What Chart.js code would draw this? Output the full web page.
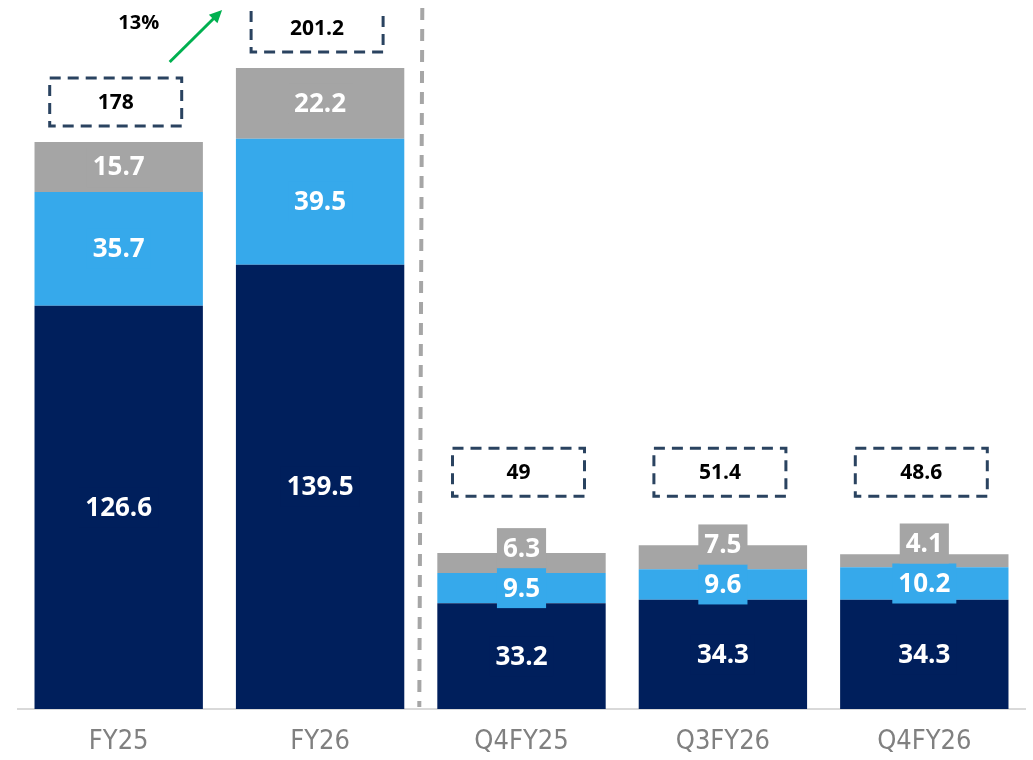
<!DOCTYPE html>
<html>
<head>
<meta charset="utf-8">
<script src="https://cdn.jsdelivr.net/npm/chart.js@4.4.1/dist/chart.umd.min.js"></script>
<style>
  html, body { margin: 0; padding: 0; background: #fff; }
  #wrap { width: 1033px; height: 760px; position: relative; }
</style>
</head>
<body>
<div id="wrap"><canvas id="revenue" width="1033" height="760"></canvas></div>
<script>
(function () {
    'use strict';

    /* ── Datos ─────────────────────────────────────────── */
    var categories = ['FY25', 'FY26', 'Q4FY25', 'Q3FY26', 'Q4FY26'];
    var baseValues = [126.6, 139.5, 33.2, 34.3, 34.3];
    var midValues  = [35.7, 39.5, 9.5, 9.6, 10.2];
    var topValues  = [15.7, 22.2, 6.3, 7.5, 4.1];
    var totals     = [178, 201.2, 49, 51.4, 48.6];
    var growth     = '13%';

    /* ── Colores ───────────────────────────────────────── */
    var NAVY  = '#001f5c';
    var BLUE  = '#36a9eb';
    var GREY  = '#a5a5a5';
    var DASH  = '#2a4360';
    var GREEN = '#00b050';
    var AXIS  = '#d9d9d9';

    var LABEL_FONT = 'bold 26px "Open Sans", sans-serif';
    var TOTAL_FONT = 'bold 21px "Open Sans", sans-serif';

    /* Etiquetas de segmento con fondo del mismo color; se apilan sin solaparse */
    var segmentLabels = {
        id: 'segmentLabels',
        afterDatasetsDraw: function (chart) {
            var ctx = chart.ctx;
            ctx.save();
            ctx.font = LABEL_FONT;
            ctx.textAlign = 'center';
            ctx.textBaseline = 'middle';
            var n = chart.data.labels.length;
            for (var i = 0; i < n; i++) {
                var prevTop = Infinity;
                chart.data.datasets.forEach(function (ds, d) {
                    var bar = chart.getDatasetMeta(d).data[i];
                    var text = String(ds.data[i]);
                    var w = ctx.measureText(text).width + 12;
                    var h = 40;
                    var cy = (bar.y + bar.base) / 2;
                    var bottom = cy + h / 2;
                    if (bottom > prevTop) bottom = prevTop;
                    var top = bottom - h;
                    ctx.fillStyle = ds.backgroundColor;
                    ctx.fillRect(bar.x - w / 2, top, w, h);
                    ctx.fillStyle = '#ffffff';
                    ctx.fillText(text, bar.x, top + h / 2 + 1);
                    prevTop = top;
                });
            }
            ctx.restore();
        }
    };

    /* Cajas punteadas con totales, separador y flecha de crecimiento */
    var annotations = {
        id: 'annotations',
        afterDatasetsDraw: function (chart) {
            var ctx = chart.ctx;
            var xs = chart.scales.x;
            var ys = chart.scales.y;
            var area = chart.chartArea;
            var boxW = 132, boxH = 48;

            var quarterMax = Math.max.apply(null, totals.slice(2));
            var boxes = totals.map(function (t, i) {
                var bottom = i < 2 ? ys.getPixelForValue(t) - 16
                                   : ys.getPixelForValue(quarterMax) - 49;
                return { x: xs.getPixelForValue(i) - 3, top: bottom - boxH, bottom: bottom };
            });

            // las cajas quedan recortadas por el borde superior del área
            ctx.save();
            ctx.beginPath();
            ctx.rect(area.left - 20, area.top + 3, area.right - area.left + 40, area.bottom - area.top);
            ctx.clip();

            ctx.lineWidth = 3;
            ctx.strokeStyle = DASH;
            ctx.setLineDash([11, 7]);
            boxes.forEach(function (b, i) {
                ctx.strokeRect(b.x - boxW / 2, b.top, boxW, boxH);
                ctx.fillStyle = '#000';
                ctx.font = TOTAL_FONT;
                ctx.textAlign = 'center';
                ctx.textBaseline = 'middle';
                ctx.fillText(String(totals[i]), b.x, b.top + boxH / 2 + 1);
            });
            ctx.restore();

            // separador anual / trimestral
            ctx.save();
            var sx = (xs.getPixelForValue(1) + xs.getPixelForValue(2)) / 2;
            ctx.strokeStyle = '#a6a6a6';
            ctx.lineWidth = 4;
            ctx.setLineDash([12, 9]);
            ctx.beginPath();
            ctx.moveTo(sx + 1.5, area.top + 2);
            ctx.lineTo(sx - 1.5, area.bottom - 2);
            ctx.stroke();
            ctx.restore();

            // flecha de crecimiento FY25 -> FY26
            var x0 = boxes[0].x + 54, y0 = boxes[0].top - 16;
            var x1 = boxes[1].x - 95, y1 = boxes[1].top + 6;
            var ang = Math.atan2(y1 - y0, x1 - x0);
            var head = 14;
            ctx.save();
            ctx.strokeStyle = GREEN;
            ctx.fillStyle = GREEN;
            ctx.lineWidth = 3;
            ctx.beginPath();
            ctx.moveTo(x0, y0);
            ctx.lineTo(x1 - Math.cos(ang) * head * 0.8, y1 - Math.sin(ang) * head * 0.8);
            ctx.stroke();
            ctx.beginPath();
            ctx.moveTo(x1, y1);
            ctx.lineTo(x1 - head * Math.cos(ang - 0.45), y1 - head * Math.sin(ang - 0.45));
            ctx.lineTo(x1 - head * Math.cos(ang + 0.45), y1 - head * Math.sin(ang + 0.45));
            ctx.closePath();
            ctx.fill();

            ctx.fillStyle = '#000';
            ctx.font = 'bold 20px "Open Sans", sans-serif';
            ctx.textAlign = 'center';
            ctx.textBaseline = 'middle';
            ctx.fillText(growth, x0 - 31, boxes[1].top + 19);
            ctx.restore();
        }
    };

    new Chart(document.getElementById('revenue'), {
        type: 'bar',
        data: {
            labels: categories,
            datasets: [
                { data: baseValues, backgroundColor: NAVY },
                { data: midValues,  backgroundColor: BLUE },
                { data: topValues,  backgroundColor: GREY }
            ]
        },
        options: {
            responsive: false,
            animation: false,
            barPercentage: 0.836,
            categoryPercentage: 1,
            layout: { padding: { left: 18, right: 8, top: 6, bottom: 0 } },
            plugins: {
                legend:  { display: false },
                tooltip: { enabled: false }
            },
            scales: {
                x: {
                    stacked: true,
                    grid: { display: false, drawTicks: false },
                    border: { display: true, color: AXIS, width: 2 },
                    ticks: {
                        padding: 17,
                        color: '#808080',
                        maxRotation: 0,
                        font: { family: '"Liberation Sans Narrow", "DejaVu Sans Condensed", "Open Sans", sans-serif', size: 27 }
                    },
                    afterFit: function (scale) { scale.height = 51; }
                },
                y: {
                    stacked: true,
                    display: false,
                    min: 0,
                    max: 220.7
                }
            }
        },
        plugins: [segmentLabels, annotations]
    });
})();
</script>
</body>
</html>
